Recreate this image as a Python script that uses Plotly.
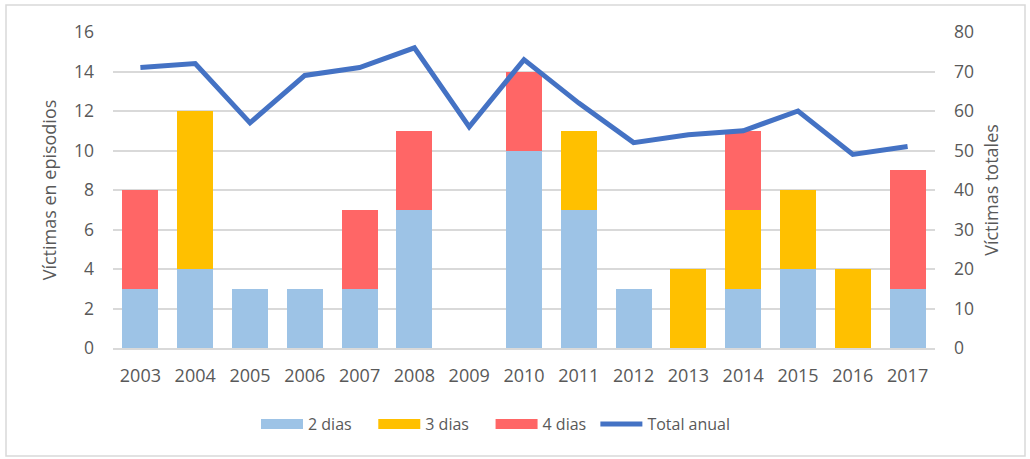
import plotly.graph_objects as go

years = [str(y) for y in range(2003, 2018)]
dias2 = [3, 4, 3, 3, 3, 7, 0, 10, 7, 3, 0, 3, 4, 0, 3]
dias3 = [0, 8, 0, 0, 0, 0, 0, 0, 4, 0, 4, 4, 4, 4, 0]
dias4 = [5, 0, 0, 0, 4, 4, 0, 4, 0, 0, 0, 4, 0, 0, 6]
total = [71, 72, 57, 69, 71, 76, 56, 73, 62, 52, 54, 55, 60, 49, 51]

names = ["2 dias", "3 dias", "4 dias"]
pads = [4, 4, 1]
colors = ["#9DC3E6", "#FFC000", "#FF6666"]
line_color = "#4472C4"

txt = "#595959"
fnt = "Open Sans, Liberation Sans, sans-serif"

L, R, T, B = 113, 95, 32, 111
W, H = 1030, 459
pw, ph = W - L - R, H - T - B

fig = go.Figure()
for vals, nm, c in zip([dias2, dias3, dias4], names, colors):
    fig.add_bar(x=years, y=vals, name=nm, marker_color=c, marker_line_width=0,
                width=0.66, showlegend=False)
# legend proxies (rectangular swatches)
for nm, c, p in zip(names, colors, pads):
    fig.add_scatter(x=[None], y=[None], name=nm + "\u00a0" * p, mode="lines",
                    line=dict(color=c, width=12))
fig.add_scatter(x=years, y=total, name="Total anual", mode="lines", yaxis="y2",
                line=dict(color=line_color, width=5))

fig.update_layout(
    barmode="stack",
    width=W, height=H,
    margin=dict(l=L, r=R, t=T, b=B),
    paper_bgcolor="white", plot_bgcolor="white",
    font=dict(family=fnt, size=16, color=txt),
    xaxis=dict(showgrid=False, showline=True, linecolor="#D9D9D9", linewidth=1.5,
               ticks="", tickfont=dict(size=18, color=txt), ticklabelstandoff=11),
    yaxis=dict(range=[0, 16], dtick=2, showgrid=True, gridcolor="#D9D9D9", gridwidth=1.5,
               zeroline=False, ticks="", tickfont=dict(size=17.5, color=txt),
               ticklabelstandoff=18,
               title=dict(text="Víctimas en episodios", font=dict(size=18, color=txt), standoff=12)),
    yaxis2=dict(range=[0, 80], dtick=10, overlaying="y", side="right", showgrid=False,
                zeroline=False, ticks="", tickfont=dict(size=17.5, color=txt),
                ticklabelstandoff=18,
                title=dict(text="Víctimas totales", font=dict(size=18, color=txt), standoff=12)),
    legend=dict(orientation="h", x=(496 - L) / pw, xanchor="center", y=-(424 - 348) / ph,
                yanchor="middle", font=dict(size=16, color=txt), traceorder="normal",
                itemwidth=42),
    shapes=[dict(type="rect", xref="paper", yref="paper",
                 x0=(6 - L) / pw, x1=(1025 - L) / pw,
                 y0=-(456 - (H - B)) / ph, y1=1 + (T - 5) / ph,
                 line=dict(color="#D9D9D9", width=1.5))],
)

fig.write_html("out.html", config={"displayModeBar": False})
with open("out.html", "r", encoding="utf-8") as f:
    html = f.read()
html = html.replace("<head>", "<head><style>html,body{margin:0;padding:0;}</style>", 1)
with open("out.html", "w", encoding="utf-8") as f:
    f.write(html)
